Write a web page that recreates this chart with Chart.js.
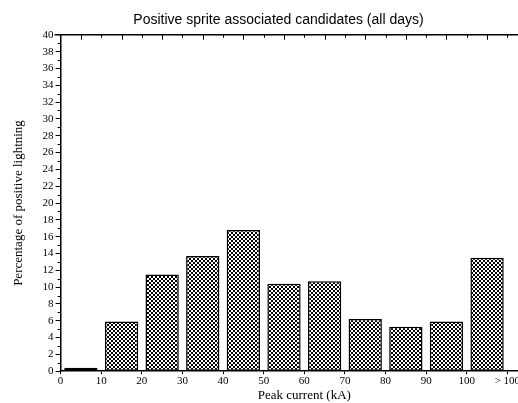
<!DOCTYPE html>
<html>
<head>
<meta charset="utf-8">
<script src="https://cdn.jsdelivr.net/npm/chart.js@4"></script>
<style>
  html, body { margin: 0; padding: 0; background: #fff; overflow: hidden; }
  #wrap { width: 552px; height: 403px; }
</style>
</head>
<body>
<div id="wrap"><canvas id="chart"></canvas></div>
<script>
// bin centres (kA) and share of positive lightning (%)
const binCenters = [5, 15, 25, 35, 45, 55, 65, 75, 85, 95, 105];
const percentages = [0.4, 5.9, 11.5, 13.7, 16.8, 10.4, 10.7, 6.2, 5.3, 5.9, 13.5];
const xTickValues = [0, 10, 20, 30, 40, 50, 60, 70, 80, 90, 100, 110];
const xTickLabels = ["0", "10", "20", "30", "40", "50", "60", "70", "80", "90", "100", "> 100"];

const serif = "'Liberation Serif', 'Times New Roman', serif";

function makeHatch() {
  const c = document.createElement("canvas");
  c.width = 4;
  c.height = 4;
  const g = c.getContext("2d");
  g.fillStyle = "#000";
  g.fillRect(0, 0, 4, 4);
  g.fillStyle = "#fff";
  g.fillRect(1, 0, 2, 2);
  g.fillRect(3, 2, 1, 2);
  g.fillRect(0, 2, 1, 2);
  return g.createPattern(c, "repeat");
}

// minor ticks on the left axis and the tick marks of the top frame line
const frameTicks = {
  id: "frameTicks",
  afterDraw(chart) {
    const { ctx, chartArea: a, scales: { x, y } } = chart;
    ctx.save();
    ctx.strokeStyle = "#000";
    ctx.lineWidth = 1;
    ctx.beginPath();
    for (let v = 1; v < 40; v += 2) {
      const py = Math.round(y.getPixelForValue(v)) + 0.5;
      ctx.moveTo(a.left - 3, py);
      ctx.lineTo(a.left, py);
    }
    for (let v = 5; v < x.max; v += 5) {
      const px = Math.round(x.getPixelForValue(v)) + 0.5;
      ctx.moveTo(px, a.top);
      ctx.lineTo(px, a.top + (v % 10 ? 5 : 3));
    }
    ctx.stroke();
    ctx.lineWidth = 1.5;
    ctx.beginPath();
    ctx.moveTo(a.left - 6, a.top);
    ctx.lineTo(a.right, a.top);
    ctx.stroke();
    ctx.restore();
  }
};

const ctx = document.getElementById("chart").getContext("2d");
new Chart(ctx, {
  type: "bar",
  data: {
    datasets: [
      {
        data: binCenters.map((x, i) => ({ x: x, y: percentages[i] })),
        backgroundColor: makeHatch(),
        borderColor: "#000",
        borderWidth: 1.5,
        borderSkipped: false,
        barPercentage: 0.82,
        categoryPercentage: 1
      }
    ]
  },
  options: {
    responsive: true,
    maintainAspectRatio: false,
    animation: false,
    layout: { padding: { left: 9, right: 4, top: 0, bottom: 0 } },
    plugins: {
      legend: { display: false },
      tooltip: { enabled: false },
      title: {
        display: true,
        text: "Positive sprite associated candidates (all days)",
        color: "#000",
        font: { family: "'Liberation Sans', Arial, sans-serif", size: 14, weight: "normal" },
        padding: { top: 12, bottom: 6 }
      }
    },
    scales: {
      x: {
        type: "linear",
        offset: false,
        min: 0,
        max: 120,
        afterBuildTicks: (scale) => {
          scale.ticks = xTickValues.map((v) => ({ value: v }));
        },
        ticks: {
          autoSkip: false,
          maxRotation: 0,
          color: "#000",
          font: { family: serif, size: 11 },
          padding: 0,
          callback: (v) => xTickValues.indexOf(v) >= 0 ? xTickLabels[xTickValues.indexOf(v)] : ""
        },
        grid: { offset: false, drawOnChartArea: false, drawTicks: true, tickLength: 3, color: "#000" },
        border: { color: "#000", width: 1.5 },
        title: {
          display: true,
          text: "Peak current (kA)",
          color: "#000",
          font: { family: serif, size: 13 },
          padding: { top: 0, bottom: 0 }
        }
      },
      y: {
        min: 0,
        max: 40,
        ticks: {
          stepSize: 2,
          autoSkip: false,
          color: "#000",
          font: { family: serif, size: 11 },
          padding: 2
        },
        grid: { drawOnChartArea: false, drawTicks: true, tickLength: 5, color: "#000" },
        border: { color: "#000", width: 1.5 },
        title: {
          display: true,
          text: "Percentage of positive lightning",
          color: "#000",
          font: { family: serif, size: 13 },
          padding: { top: 2, bottom: 14 }
        }
      }
    }
  },
  plugins: [frameTicks]
});
</script>
</body>
</html>
